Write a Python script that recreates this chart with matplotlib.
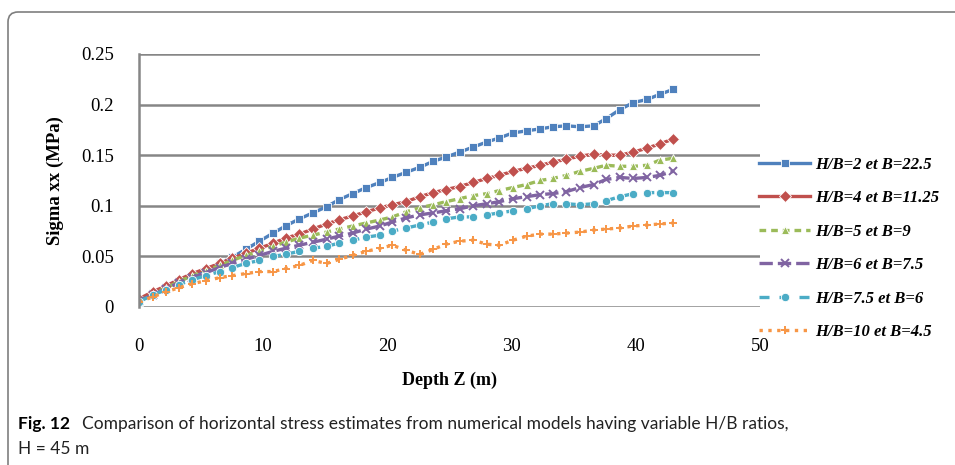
import matplotlib
matplotlib.use('Agg')
import matplotlib.pyplot as plt
from matplotlib.patches import FancyBboxPatch

depth = [0, 1.1, 2.2, 3.2, 4.3, 5.4, 6.5, 7.5, 8.6, 9.7, 10.8, 11.8, 12.9, 14.0,
         15.1, 16.1, 17.2, 18.3, 19.4, 20.4, 21.5, 22.6, 23.7, 24.7, 25.8, 26.9,
         28.0, 29.0, 30.1, 31.2, 32.3, 33.3, 34.4, 35.5, 36.6, 37.6, 38.7, 39.8,
         40.9, 41.9, 43.0]

hb2 = [0.005, 0.014, 0.020, 0.026, 0.031, 0.037, 0.043, 0.049, 0.057, 0.065,
       0.073, 0.080, 0.087, 0.093, 0.099, 0.106, 0.112, 0.118, 0.123, 0.128,
       0.133, 0.138, 0.144, 0.148, 0.153, 0.158, 0.163, 0.167, 0.172, 0.174,
       0.176, 0.178, 0.179, 0.178, 0.179, 0.186, 0.195, 0.202, 0.205, 0.210, 0.215]
hb4 = [0.008, 0.015, 0.021, 0.027, 0.033, 0.038, 0.043, 0.048, 0.053, 0.058,
       0.063, 0.068, 0.072, 0.077, 0.082, 0.086, 0.090, 0.094, 0.098, 0.101,
       0.104, 0.109, 0.113, 0.116, 0.119, 0.123, 0.127, 0.130, 0.134, 0.137,
       0.140, 0.143, 0.146, 0.149, 0.151, 0.150, 0.150, 0.153, 0.157, 0.161, 0.166]
hb5 = [0.006, 0.013, 0.019, 0.025, 0.031, 0.036, 0.041, 0.046, 0.051, 0.055,
       0.060, 0.064, 0.068, 0.071, 0.074, 0.077, 0.080, 0.083, 0.086, 0.089,
       0.094, 0.098, 0.101, 0.104, 0.107, 0.110, 0.112, 0.115, 0.118, 0.121,
       0.125, 0.127, 0.130, 0.134, 0.137, 0.140, 0.139, 0.139, 0.140, 0.145, 0.147]
hb6 = [0.006, 0.012, 0.018, 0.024, 0.029, 0.034, 0.039, 0.043, 0.047, 0.051,
       0.055, 0.058, 0.061, 0.064, 0.067, 0.070, 0.073, 0.077, 0.080, 0.084,
       0.088, 0.091, 0.093, 0.095, 0.097, 0.100, 0.102, 0.104, 0.107, 0.109,
       0.111, 0.112, 0.114, 0.118, 0.121, 0.126, 0.128, 0.127, 0.128, 0.130, 0.134]
hb75 = [0.005, 0.012, 0.017, 0.022, 0.027, 0.031, 0.035, 0.039, 0.043, 0.046,
        0.050, 0.052, 0.055, 0.058, 0.060, 0.063, 0.066, 0.069, 0.071, 0.075,
        0.078, 0.081, 0.084, 0.087, 0.089, 0.089, 0.091, 0.093, 0.095, 0.097,
        0.100, 0.102, 0.102, 0.101, 0.102, 0.105, 0.109, 0.112, 0.113, 0.113, 0.113]
hb10 = [0.005, 0.010, 0.015, 0.019, 0.023, 0.026, 0.029, 0.031, 0.033, 0.035,
        0.035, 0.038, 0.041, 0.046, 0.043, 0.047, 0.051, 0.055, 0.058, 0.061,
        0.056, 0.052, 0.057, 0.062, 0.065, 0.066, 0.062, 0.061, 0.066, 0.070,
        0.072, 0.072, 0.073, 0.074, 0.076, 0.077, 0.078, 0.080, 0.081, 0.082, 0.083]

labels = ['H/B=2 et B=22.5', 'H/B=4 et B=11.25', 'H/B=5 et B=9',
          'H/B=6 et B=7.5', 'H/B=7.5 et B=6', 'H/B=10 et B=4.5']
colors = ['#4F81BD', '#C0504D', '#9BBB59', '#8064A2', '#4BACC6', '#F79646']
markers = ['s', 'D', '^', 'x', 'o', '+']
styles = ['-', '-', (0, (2, 1.5)), (0, (4, 1.5)), (0, (3, 3)), ':']
series = [hb2, hb4, hb5, hb6, hb75, hb10]

fig = plt.figure(figsize=(9.55, 4.65), dpi=100)

frame = FancyBboxPatch((8, -20), 1000, 473, boxstyle='round,pad=0,rounding_size=10',
                       transform=None, facecolor='none', edgecolor='#7f7f7f', linewidth=1.2)
fig.patches.append(frame)

ax = fig.add_axes([0.1455, 0.3398, 0.6505, 0.5442])
for vals, lab, c, m, ls in zip(series, labels, colors, markers, styles):
    ax.plot(depth, vals, color=c, linestyle=ls, linewidth=2.4, marker=m,
            markersize=6, markeredgewidth=1.4 if m in 'x+' else 0.6,
            markeredgecolor=c if m in 'x+' else 'white', label=lab)

ax.set_xlim(0, 50)
ax.set_ylim(0, 0.25)
ax.set_xticks([0, 10, 20, 30, 40, 50])
ax.set_yticks([0, 0.05, 0.1, 0.15, 0.2, 0.25])
ax.set_yticklabels(['0', '0.05', '0.1', '0.15', '0.2', '0.25'])
ax.grid(axis='y', color='#868686', linewidth=1.8)
ax.set_axisbelow(True)
for s in ['top', 'right', 'bottom']:
    ax.spines[s].set_visible(False)
ax.spines['left'].set_color('#868686')
ax.spines['left'].set_linewidth(1.8)
ax.tick_params(length=0, labelsize=13.5, labelfontfamily='Liberation Serif')
ax.tick_params(axis='x', pad=22)
ax.tick_params(axis='y', pad=18)
ax.set_xlabel('Depth Z (m)', fontsize=13, fontweight='bold', family='Liberation Serif', labelpad=12)
ax.set_ylabel('Sigma xx (MPa)', fontsize=13.5, fontweight='bold', family='Liberation Serif', labelpad=12)

fig.legend(loc='upper left', bbox_to_anchor=(752 / 955, 1 - 150 / 465), frameon=False,
           prop={'family': 'Liberation Serif', 'weight': 'bold', 'style': 'italic', 'size': 12},
           labelspacing=1.05, handlelength=3.1, handletextpad=0.3, borderaxespad=0)

fig.text(18 / 955, 1 - 429 / 465, 'Fig. 12', fontsize=12.5, fontweight='bold', family='Lato',
         va='baseline')
fig.text(82 / 955, 1 - 429 / 465,
         'Comparison of horizontal stress estimates from numerical models having variable H/B ratios,',
         fontsize=12.5, family='Lato', va='baseline', color='#222222')
fig.text(18 / 955, 1 - 454 / 465, 'H = 45 m', fontsize=12.5, family='Lato', va='baseline',
         color='#222222')

fig.savefig('out.png', dpi=100)
